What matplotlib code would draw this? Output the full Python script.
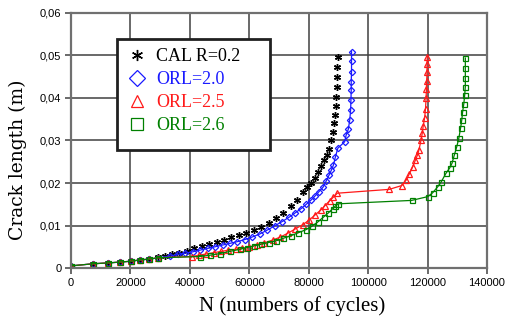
import matplotlib
matplotlib.use('Agg')
import matplotlib.pyplot as plt
from matplotlib.patches import Rectangle
from matplotlib.ticker import FuncFormatter, MultipleLocator

# values (N cycles, crack length m)
cal_n = [0, 7500, 12600, 16600, 20200, 23200, 26400, 29200, 31500, 34000,
         36500, 39000, 41500, 44000, 46500, 49000, 51500, 54000, 56500, 59000,
         61500, 64000, 66500, 69000, 71500, 74000, 76000, 78000, 79500, 80800,
         82000, 83000, 84000, 85000, 86000, 86800, 87400, 88000, 88500, 88800,
         89100, 89300, 89400, 89500, 89600, 89700]
cal_a = [0.0005, 0.0010, 0.0012, 0.0014, 0.0016, 0.0019, 0.0022, 0.0025, 0.0028, 0.0032,
         0.0036, 0.0041, 0.0047, 0.0052, 0.0057, 0.0062, 0.0067, 0.0072, 0.0077, 0.0082,
         0.0089, 0.0097, 0.0106, 0.0117, 0.0130, 0.0145, 0.0160, 0.0178, 0.0190, 0.0200,
         0.0212, 0.0225, 0.0240, 0.0253, 0.0265, 0.0280, 0.0300, 0.0320, 0.0340, 0.0360,
         0.0380, 0.0402, 0.0427, 0.0450, 0.0474, 0.0497]

orl20_n = [0, 7500, 12600, 16600, 20200, 23200, 26400, 29200, 33300, 36000,
           38500, 41000, 43400, 46000, 48500, 51000, 53500, 56000, 58500, 61000,
           63500, 66000, 68500, 71000, 73500, 75500, 77500, 79200, 80800, 82200,
           83500, 84800, 85900, 86800, 87600, 88300, 89000, 89800, 92100, 92600,
           93300, 93800, 94100, 94200, 94300, 94300, 94400, 94400, 94400]
orl20_a = [0.0005, 0.0010, 0.0012, 0.0014, 0.0016, 0.0019, 0.0021, 0.0024, 0.0028, 0.0032,
           0.0035, 0.0038, 0.0042, 0.0046, 0.0050, 0.0054, 0.0058, 0.0062, 0.0067, 0.0073,
           0.0080, 0.0089, 0.0099, 0.0109, 0.0120, 0.0130, 0.0140, 0.0150, 0.0160, 0.0170,
           0.0180, 0.0190, 0.0205, 0.0218, 0.0230, 0.0242, 0.0262, 0.0282, 0.0297, 0.0313,
           0.0326, 0.0348, 0.0372, 0.0395, 0.0419, 0.0438, 0.0462, 0.0486, 0.0509]

orl25_n = [0, 7500, 12600, 16600, 20200, 23200, 26400, 29200, 40600, 43000,
           45500, 48000, 50500, 53000, 55500, 57500, 60000, 62500, 65000, 68000,
           70500, 73000, 75500, 78000, 80000, 82000, 84000, 85500, 87000, 88200,
           89600, 107100, 111300, 112800, 113900, 115000, 115900, 116600, 117100, 117800,
           118200, 118500, 119000, 119300, 119500, 119600, 119700, 119800, 119800, 119900]
orl25_a = [0.0005, 0.0010, 0.0012, 0.0014, 0.0016, 0.0019, 0.0021, 0.0024, 0.0027, 0.0030,
           0.0033, 0.0036, 0.0039, 0.0042, 0.0044, 0.0046, 0.0049, 0.0054, 0.0059, 0.0066,
           0.0073, 0.0082, 0.0092, 0.0102, 0.0112, 0.0124, 0.0136, 0.0147, 0.0158, 0.0166,
           0.0176, 0.0185, 0.0194, 0.0207, 0.0222, 0.0238, 0.0254, 0.0266, 0.0278, 0.0301,
           0.0317, 0.0333, 0.0353, 0.0375, 0.0400, 0.0420, 0.0440, 0.0460, 0.0480, 0.0497]

orl26_n = [0, 7500, 12600, 16600, 20200, 23200, 26400, 29200, 43300, 46700,
           50100, 53400, 56800, 59100, 61500, 64000, 66500, 69000, 71500, 74000,
           76500, 79000, 81000, 83000, 85000, 86500, 88000, 89000, 89800, 114600,
           120100, 121700, 123400, 124600, 126200, 127400, 128200, 129000, 129800, 130500,
           131100, 131500, 131800, 132200, 132500, 132700, 132700, 132700, 132700]
orl26_a = [0.0005, 0.0010, 0.0012, 0.0014, 0.0016, 0.0019, 0.0021, 0.0024, 0.0027, 0.0030,
           0.0034, 0.0039, 0.0044, 0.0048, 0.0052, 0.0056, 0.0060, 0.0064, 0.0070, 0.0076,
           0.0083, 0.0090, 0.0098, 0.0108, 0.0120, 0.0129, 0.0139, 0.0146, 0.0151, 0.0159,
           0.0168, 0.0177, 0.0191, 0.0203, 0.0223, 0.0235, 0.0246, 0.0266, 0.0285, 0.0305,
           0.0329, 0.0348, 0.0368, 0.0387, 0.0408, 0.0427, 0.0447, 0.0470, 0.0494]

labels = ['CAL R=0.2', 'ORL=2.0', 'ORL=2.5', 'ORL=2.6']
colors = ['black', '#1a1aff', '#ff1a1a', '#008000']

fig = plt.figure(figsize=(5.05, 3.29), dpi=100)
ax = fig.add_axes([0.1406, 0.1854, 0.8238, 0.7751])

ax.plot(cal_n, cal_a, linestyle='none', marker=(6, 2, 0), markersize=5,
        color=colors[0], markeredgewidth=1.0, label=labels[0])
ax.plot(orl20_n, orl20_a, '-', marker='D', markersize=3.2, color=colors[1],
        markerfacecolor='none', linewidth=0.9, markeredgewidth=0.9, label=labels[1])
ax.plot(orl25_n, orl25_a, '-', marker='^', markersize=4.2, color=colors[2],
        markerfacecolor='none', linewidth=0.9, markeredgewidth=0.9, label=labels[2])
ax.plot(orl26_n, orl26_a, '-', marker='s', markersize=3.6, color=colors[3],
        markerfacecolor='none', linewidth=0.9, markeredgewidth=0.9, label=labels[3])

ax.set_xlim(0, 140000)
ax.set_ylim(0, 0.06)
ax.xaxis.set_major_locator(MultipleLocator(20000))
ax.yaxis.set_major_locator(MultipleLocator(0.01))
ax.yaxis.set_major_formatter(FuncFormatter(
    lambda v, p: '0' if abs(v) < 1e-9 else ('%.2f' % v).replace('.', ',')))
ax.grid(True, color='#404040', linewidth=1.1)
ax.set_axisbelow(True)
for s in ax.spines.values():
    s.set_color('#707070')
    s.set_linewidth(1.6)
ax.tick_params(length=4, width=1.2, color='#505050', labelsize=8, pad=3)
for lab in ax.get_xticklabels() + ax.get_yticklabels():
    lab.set_fontfamily('Liberation Sans')

ax.set_xlabel('N (numbers of cycles)', family='Liberation Serif', fontsize=15)
ax.set_ylabel('Crack length (m)', family='DejaVu Serif', fontsize=13.5)
ax.xaxis.set_label_coords(0.531, -0.11)
ax.yaxis.set_label_coords(-0.105, 0.424)

# legend box, larger than its content as in the reference
box = Rectangle((0.11, 0.463), 0.368, 0.435, transform=ax.transAxes,
                facecolor='white', edgecolor='#202020', linewidth=2, zorder=5)
ax.add_patch(box)
leg = ax.legend(loc='upper left', bbox_to_anchor=(0.128, 0.876), borderaxespad=0,
                frameon=False, prop={'family': 'Liberation Serif', 'size': 13},
                handlelength=1.0, handletextpad=0.55, labelspacing=0.33, borderpad=0.2)
leg.set_zorder(6)
for h in leg.get_lines():
    h.set_linestyle('none')
    h.set_markersize(8)
for t, c in zip(leg.get_texts(), colors):
    t.set_color(c)

fig.savefig('out.png', dpi=100)
